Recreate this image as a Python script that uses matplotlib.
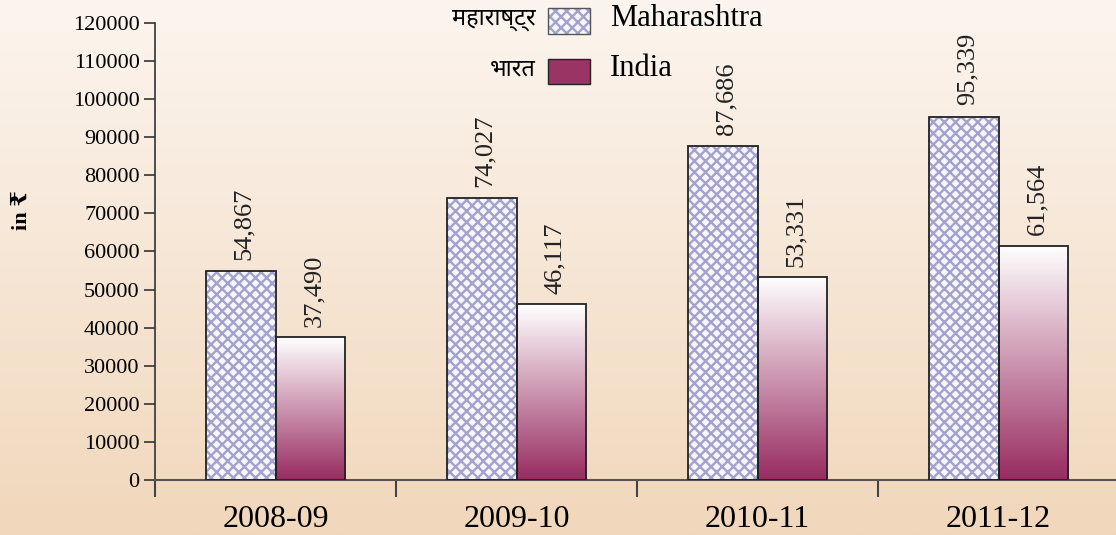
import numpy as np
import matplotlib
matplotlib.use("Agg")
import matplotlib.pyplot as plt
from matplotlib.patches import Rectangle

categories = ["2008-09", "2009-10", "2010-11", "2011-12"]
maharashtra = [54867, 74027, 87686, 95339]
india = [37490, 46117, 53331, 61564]
yticks = list(range(0, 120001, 10000))
legend_mr = ["महाराष्ट्र", "भारत"]
legend_en = ["Maharashtra", "India"]
ylabel = "in ₹"

plt.rcParams["hatch.linewidth"] = 1.7

W, H = 1116, 535
fig = plt.figure(figsize=(W / 100, H / 100), dpi=100)

# background gradient
bg = fig.add_axes([0, 0, 1, 1], zorder=-10)
top = np.array([0xFC, 0xF5, 0xEF]) / 255
bot = np.array([0xF1, 0xD7, 0xBB]) / 255
t = np.linspace(0, 1, 256)[:, None]
grad = top[None, :] * (1 - t) + bot[None, :] * t
bg.imshow(grad[:, None, :], aspect="auto", extent=[0, 1, 0, 1], origin="upper")
bg.set_axis_off()

serif = ["Liberation Serif", "DejaVu Serif", "DejaVu Sans", "Noto Sans"]

left = 155 / W
right = 1119 / W
bottom = (H - 480) / H
topy = (H - 23) / H
ax = fig.add_axes([left, bottom, right - left, topy - bottom])
ax.patch.set_alpha(0)

x = np.arange(len(categories))
bw = 0.29
mcol = "#A2A2CC"
mface = "#F7F6FF"

# Maharashtra hatched bars
ax.bar(x - bw / 2, maharashtra, width=bw, color=mface, edgecolor=mcol,
       hatch="xxx", linewidth=0, zorder=2)
ax.bar(x - bw / 2, maharashtra, width=bw, fill=False, edgecolor="#222222",
       linewidth=1.3, zorder=3)

# India gradient bars
itop = np.array([1.0, 1.0, 1.0])
ibot = np.array([0x98, 0x2B, 0x60]) / 255
tt = np.linspace(0, 1, 256)[:, None]
igrad = itop[None, :] * (1 - tt) + ibot[None, :] * tt
bars = ax.bar(x + bw / 2, india, width=bw, fill=False, edgecolor="#222222",
              linewidth=1.3, zorder=3)
for b in bars:
    x0, w, h = b.get_x(), b.get_width(), b.get_height()
    im = ax.imshow(igrad[:, None, :], aspect="auto", extent=[x0, x0 + w, 0, h],
                   origin="upper", zorder=2)
    clip = Rectangle((x0, 0), w, h, transform=ax.transData)
    im.set_clip_path(clip)

ax.set_xlim(-0.5, 3.5)
ax.set_ylim(0, 120000)

# value labels
for xi, v in zip(x - bw / 2, maharashtra):
    ax.text(xi + 0.015, v + 3000, f"{v:,}", rotation=90, ha="center", va="bottom",
            fontsize=19, family=serif, color="#222222")
for xi, v in zip(x + bw / 2, india):
    ax.text(xi + 0.015, v + 2700, f"{v:,}", rotation=90, ha="center", va="bottom",
            fontsize=19, family=serif, color="#222222")

# axes styling
for s in ["top", "right"]:
    ax.spines[s].set_visible(False)
ax.spines["left"].set_color("#333333")
ax.spines["left"].set_linewidth(1.2)
ax.spines["bottom"].set_color("#555555")
ax.spines["bottom"].set_linewidth(1.5)
ax.set_yticks(yticks)
ax.set_yticklabels([str(v) for v in yticks], family=serif, fontsize=16)
ax.tick_params(axis="y", length=8, width=1.2, color="#333333", pad=3)
ax.set_xticks(x)
ax.set_xticklabels(categories, family=serif, fontsize=23)
ax.tick_params(axis="x", which="major", length=0, pad=18)
ax.set_xticks([-0.5, 0.5, 1.5, 2.5], minor=True)
ax.tick_params(axis="x", which="minor", length=12, width=1.5, color="#444444")

fig.text(22 / W, 1 - 210 / H, ylabel, rotation=90, ha="center", va="center",
         fontsize=16, fontweight="bold", family=serif)

# legend
ys = [21, 71]
for i in range(2):
    yc = 1 - ys[i] / H
    ph = 25 / H
    if i == 0:
        r = Rectangle((548 / W, yc - ph / 2), 42 / W, ph, transform=fig.transFigure,
                      facecolor=mface, edgecolor=mcol, hatch="xxx", linewidth=0)
        fig.add_artist(r)
        r2 = Rectangle((548 / W, yc - ph / 2), 42 / W, ph, transform=fig.transFigure,
                       fill=False, edgecolor="#555555", linewidth=1.0)
        fig.add_artist(r2)
    else:
        r = Rectangle((548 / W, yc - ph / 2), 42 / W, ph, transform=fig.transFigure,
                      facecolor="#9A3464", edgecolor="#222222", linewidth=1.0)
        fig.add_artist(r)
    fig.text(536 / W, yc + 1 / H, legend_mr[i], ha="right", va="center",
             fontsize=17, family=serif)
    fig.text(610 / W, yc + 2 / H, legend_en[i], ha="left", va="center",
             fontsize=22, family=serif)

fig.savefig("out.png", dpi=100)
